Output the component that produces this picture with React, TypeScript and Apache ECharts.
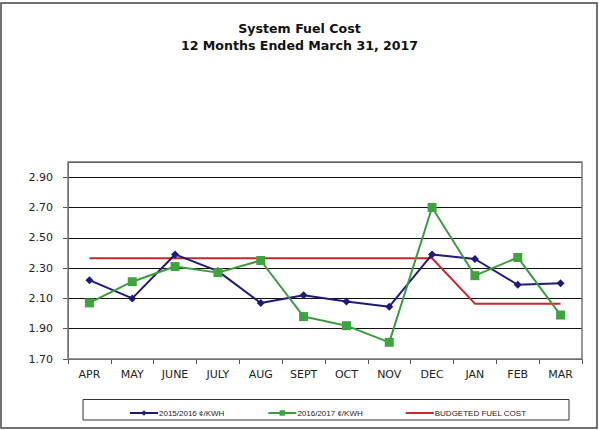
import React, { useEffect, useRef } from "react";
import * as echarts from "echarts";

const months = ["APR", "MAY", "JUNE", "JULY", "AUG", "SEPT", "OCT", "NOV", "DEC", "JAN", "FEB", "MAR"];
const fy2016 = [2.22, 2.10, 2.39, 2.28, 2.07, 2.12, 2.08, 2.045, 2.39, 2.36, 2.19, 2.20];
const fy2017 = [2.07, 2.21, 2.31, 2.27, 2.35, 1.98, 1.92, 1.81, 2.70, 2.25, 2.37, 1.99];
const budget = [2.365, 2.365, 2.365, 2.365, 2.365, 2.365, 2.365, 2.365, 2.365, 2.065, 2.065, 2.065];
const seriesNames = ["2015/2016 ¢/KWH", "2016/2017 ¢/KWH", "BUDGETED FUEL COST"];
const titleLines = ["System Fuel Cost", "12 Months Ended March 31, 2017"];

export default function App() {
  const ref = useRef<HTMLDivElement>(null);
  useEffect(() => {
    if (!ref.current) return;
    const chart = echarts.init(ref.current, null, { renderer: "svg" });
    const font = "DejaVu Sans";
    chart.setOption({
      animation: false,
      backgroundColor: "#ffffff",
      title: {
        text: titleLines.join("\n"),
        left: "center",
        top: 15,
        textStyle: { fontFamily: font, fontSize: 12.6, fontWeight: "bold", color: "#111", lineHeight: 17 },
      },
      legend: {
        left: 124,
        top: 404,
        itemWidth: 28,
        itemHeight: 7,
        itemGap: 43,
        symbolKeepAspect: true,
        textStyle: { fontFamily: "Liberation Sans", fontSize: 8, color: "#222", padding: [0, 0, 0, -4] },
        data: [
          { name: seriesNames[0] },
          { name: seriesNames[1] },
          { name: seriesNames[2], icon: "path://M0 0 H28 V2 H0 Z" },
        ],
      },
      grid: { left: 68, right: 17, top: 162, bottom: 71 },
      xAxis: {
        type: "category",
        data: months,
        boundaryGap: true,
        axisLine: { lineStyle: { color: "#555", width: 1 } },
        axisTick: { show: true, length: 5, lineStyle: { color: "#555" } },
        axisLabel: { fontFamily: font, fontSize: 11, color: "#222", margin: 10 },
      },
      yAxis: {
        type: "value",
        min: 1.7,
        max: 3.0,
        interval: 0.2,
        axisLine: { show: true, lineStyle: { color: "#555" } },
        axisTick: { show: true, length: 5, lineStyle: { color: "#555" } },
        axisLabel: {
          fontFamily: font,
          fontSize: 11,
          color: "#222",
          margin: 15,
          showMaxLabel: false,
          formatter: (v: number) => (Math.abs(v - 3.0) < 1e-6 ? "" : v.toFixed(2)),
        },
        splitLine: { show: true, lineStyle: { color: "#111", width: 1 } },
      },
      series: [
        {
          name: seriesNames[0],
          type: "line",
          data: fy2016,
          symbol: "diamond",
          symbolSize: 8,
          itemStyle: { color: "#1c1c78" },
          lineStyle: { color: "#1c1c78", width: 2 },
          z: 3,
        },
        {
          name: seriesNames[1],
          type: "line",
          data: fy2017,
          symbol: "rect",
          symbolSize: 9,
          itemStyle: { color: "#3fa33f" },
          lineStyle: { color: "#3f9a3f", width: 2 },
          z: 4,
        },
        {
          name: seriesNames[2],
          type: "line",
          data: budget,
          symbol: "none",
          itemStyle: { color: "#c8272d" },
          lineStyle: { color: "#c8272d", width: 2 },
          z: 2,
        },
      ],
      graphic: [
        {
          type: "rect",
          shape: { x: 68, y: 162, width: 514, height: 197 },
          style: { fill: "none", stroke: "#777", lineWidth: 1.5 },
          z: 10,
          silent: true,
        },
        {
          type: "rect",
          shape: { x: 83, y: 399.5, width: 486, height: 20.5 },
          style: { fill: "none", stroke: "#333", lineWidth: 1 },
          z: 10,
          silent: true,
        },
        {
          type: "rect",
          shape: { x: 1, y: 3, width: 596, height: 425 },
          style: { fill: "none", stroke: "#444", lineWidth: 1.5 },
          z: 10,
          silent: true,
        },
      ],
    });
    return () => chart.dispose();
  }, []);
  return (
    <div
      ref={ref}
      style={{ position: "absolute", left: 0, top: 0, width: 599, height: 430 }}
    />
  );
}
